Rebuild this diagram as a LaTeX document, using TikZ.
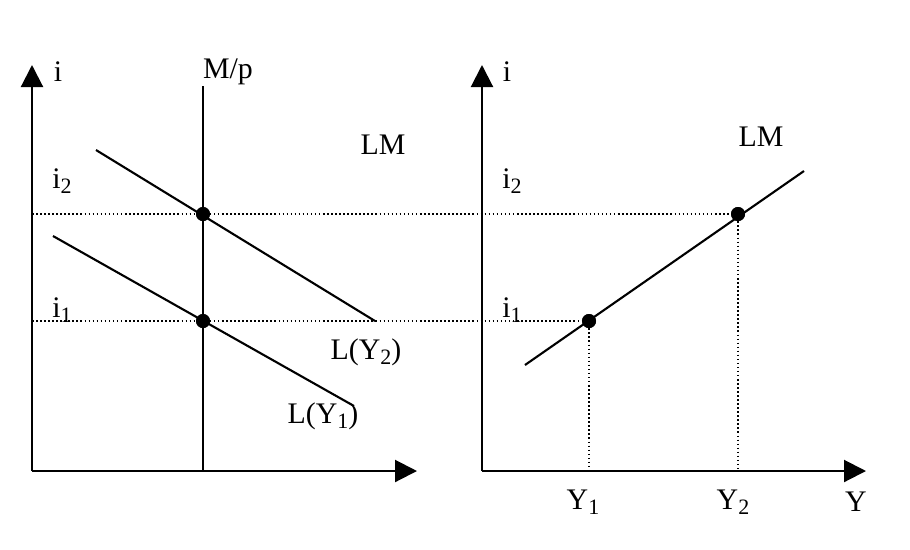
\documentclass[tikz,border=0pt]{standalone}
\usepackage{fontspec}
\setmainfont{Liberation Serif}
\usetikzlibrary{arrows.meta}
\newcommand{\sbs}[1]{\raisebox{-2.8pt}{\fontsize{12.5}{14}\selectfont #1}}
\tikzset{
  axis/.style={line width=1.2pt, -{Triangle[length=0.44cm,width=0.44cm]}},
  curve/.style={line width=1.2pt},
  guide/.style={line width=0.9pt, dash pattern=on 0.9pt off 1.4pt},
  dot/.style={circle, fill=black, inner sep=0pt, minimum size=0.28cm},
  lbl/.style={font=\fontsize{17}{20}\selectfont, inner sep=0pt},
}

\begin{document}
\begin{tikzpicture}[x=0.02cm, y=-0.02cm]
  \useasboundingbox (0,0) rectangle (910,549);

  % Left panel: money market
  \coordinate (O1) at (32,471);
  \coordinate (I1top) at (32,65);
  \coordinate (X1end) at (417,471);
  \coordinate (MPtop) at (203,86);
  \coordinate (MPbot) at (203,471);
  \coordinate (LY2a) at (96,150);
  \coordinate (LY2b) at (375,321);
  \coordinate (LY1a) at (53,236);
  \coordinate (LY1b) at (354,406);

  % Right panel: LM curve
  \coordinate (O2) at (482,471);
  \coordinate (I2top) at (482,65);
  \coordinate (X2end) at (866,471);
  \coordinate (LMa) at (525,365);
  \coordinate (LMb) at (804,171);
  \coordinate (Y1ax) at (589,471);
  \coordinate (Y2ax) at (738,471);
  \coordinate (i2ax) at (32,214);
  \coordinate (i1ax) at (32,321);

  % Equilibrium points
  \node[dot] (A2) at (203,214) {};
  \node[dot] (A1) at (203,321) {};
  \node[dot] (B1) at (589,321) {};
  \node[dot] (B2) at (738,214) {};

  % Dotted guides
  \draw[guide] (i2ax) -- (B2);
  \draw[guide] (i1ax) -- (B1);
  \draw[guide] (B1) -- (Y1ax);
  \draw[guide] (B2) -- (Y2ax);

  % Axes
  \draw[axis] (O1) -- (I1top);
  \draw[axis] (O1) -- (X1end);
  \draw[axis] (O2) -- (I2top);
  \draw[axis] (O2) -- (X2end);

  % Curves
  \draw[curve] (MPbot) -- (MPtop);
  \draw[curve] (LY2a) -- (LY2b);
  \draw[curve] (LY1a) -- (LY1b);
  \draw[curve] (LMa) -- (LMb);

  % Redraw points on top
  \node[dot] at (A2) {};
  \node[dot] at (A1) {};
  \node[dot] at (B1) {};
  \node[dot] at (B2) {};

  % Labels
  \node[lbl] (ilbl1) at (58,72) {i};
  \node[lbl] (mplbl) at (228,72) {M/p};
  \node[lbl] (lmlbl1) at (383,145) {LM};
  \node[lbl] (i2lbl1) at (62,181) {i\sbs{2}};
  \node[lbl] (i1lbl1) at (62,310) {i\sbs{1}};
  \node[lbl] (ly2lbl) at (366,352) {L(Y\sbs{2})};
  \node[lbl] (ly1lbl) at (323,416) {L(Y\sbs{1})};
  \node[lbl] (ilbl2) at (507,72) {i};
  \node[lbl] (lmlbl2) at (761,137) {LM};
  \node[lbl] (i2lbl2) at (512,181) {i\sbs{2}};
  \node[lbl] (i1lbl2) at (512,310) {i\sbs{1}};
  \node[lbl] (y1lbl) at (583,502) {Y\sbs{1}};
  \node[lbl] (y2lbl) at (733,502) {Y\sbs{2}};
  \node[lbl] (ylbl) at (856,502) {Y};
\end{tikzpicture}
\end{document}
